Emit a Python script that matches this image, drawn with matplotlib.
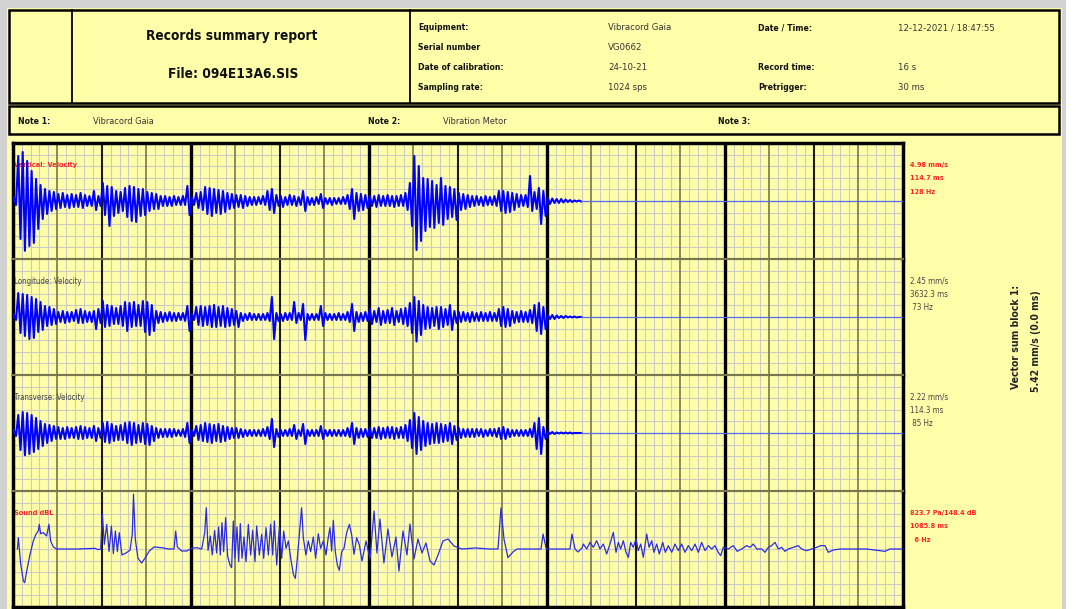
import numpy as np
import matplotlib
matplotlib.use('Agg')
import matplotlib.pyplot as plt
from matplotlib.patches import Rectangle

# ---- vibration envelopes, one value per 40 ms bin (mm/s) ----
DT = 0.04
vert_up = [0.4, 4.5, 4.9, 4.0, 3.0, 2.2, 1.6, 1.2, 1.0, 0.9,
           0.7, 0.8, 0.6, 0.7, 0.6, 0.8, 0.6, 0.5, 1.0, 0.5,
           1.8, 1.5, 1.4, 1.0, 0.9, 1.3, 1.5, 1.4, 1.2, 1.2,
           0.9, 0.8, 0.7, 0.5, 0.5, 0.4, 0.5, 0.4, 0.5, 1.5,
           0.4, 0.8, 0.9, 1.4, 1.3, 1.2, 1.1, 1.0, 0.8, 0.7,
           0.6, 0.6, 0.5, 0.4, 0.4, 0.4, 0.5, 1.0, 1.2, 0.6,
           0.5, 0.4, 0.6, 0.5, 0.4, 1.0, 0.4, 0.3, 0.4, 0.7,
           0.3, 0.3, 0.3, 0.3, 0.4, 0.6, 1.2, 0.8, 0.7, 0.6,
           0.5, 0.5, 0.6, 0.5, 0.6, 0.5, 0.5, 0.6, 0.8, 1.8,
           4.5, 3.5, 2.3, 2.2, 2.0, 1.6, 2.3, 1.5, 1.4, 1.2,
           0.8, 0.7, 0.6, 0.5, 0.5, 0.4, 0.5, 0.4, 0.5, 1.0,
           1.0, 0.9, 0.8, 0.7, 0.6, 0.6, 2.5, 0.9, 1.3, 1.0,
           0.3, 0.25, 0.2, 0.2, 0.15, 0.1, 0.05, 0.05]
vert_lo = [0.4, 3.8, 4.98, 4.5, 4.2, 2.8, 1.8, 1.3, 1.0, 0.8,
           0.7, 0.6, 0.7, 0.6, 0.6, 0.7, 0.5, 0.5, 0.9, 0.5,
           1.4, 2.5, 1.5, 1.2, 1.0, 1.6, 2.0, 2.1, 1.5, 1.4,
           1.0, 0.8, 0.8, 0.5, 0.5, 0.5, 0.4, 0.4, 0.4, 1.4,
           0.4, 0.7, 0.9, 1.3, 1.5, 1.2, 1.3, 1.1, 0.8, 0.7,
           0.6, 0.7, 0.5, 0.4, 0.4, 0.3, 0.4, 0.9, 1.2, 0.5,
           0.6, 0.4, 0.4, 0.5, 0.4, 1.0, 0.4, 0.4, 0.3, 0.7,
           0.3, 0.4, 0.3, 0.3, 0.3, 0.8, 1.8, 1.0, 0.9, 0.7,
           0.5, 0.6, 0.5, 0.5, 0.5, 0.6, 0.5, 0.5, 0.9, 2.5,
           4.9, 4.0, 3.0, 2.6, 2.7, 2.2, 2.4, 1.8, 1.6, 1.9,
           0.9, 0.8, 0.6, 0.5, 0.4, 0.5, 0.4, 0.4, 0.5, 1.0,
           1.2, 1.1, 0.9, 0.6, 0.5, 0.6, 1.0, 0.8, 2.3, 1.5,
           0.3, 0.2, 0.2, 0.15, 0.1, 0.1, 0.05, 0.05]

long_up = [0.3, 2.4, 2.3, 2.2, 2.0, 1.8, 1.5, 1.1, 1.0, 0.8,
           0.5, 0.6, 0.5, 0.5, 0.7, 0.8, 0.6, 0.5, 0.6, 0.8,
           1.6, 1.2, 1.1, 0.9, 1.1, 1.5, 1.4, 1.5, 1.2, 1.6,
           1.5, 1.2, 0.6, 0.5, 0.4, 0.5, 0.4, 0.4, 0.4, 1.1,
           0.3, 1.0, 1.1, 1.0, 1.1, 1.2, 1.0, 1.1, 0.9, 0.8,
           0.6, 0.4, 0.3, 0.4, 0.3, 0.3, 0.3, 0.4, 2.0, 0.4,
           0.3, 0.4, 0.4, 1.5, 0.4, 1.3, 0.3, 0.3, 0.3, 1.1,
           0.4, 0.3, 0.3, 0.4, 0.3, 0.5, 1.3, 0.5, 0.4, 0.5,
           0.8, 0.6, 0.9, 0.6, 0.7, 0.9, 0.6, 0.8, 0.9, 1.4,
           2.0, 1.6, 1.2, 1.0, 0.9, 1.0, 1.0, 0.8, 1.2, 0.6,
           0.5, 0.5, 0.4, 0.5, 0.4, 0.5, 0.4, 0.5, 0.4, 0.8,
           1.0, 0.8, 0.6, 0.5, 0.6, 0.5, 0.7, 1.2, 1.4, 1.0,
           0.2, 0.2, 0.15, 0.1, 0.1, 0.05, 0.05, 0.0]
long_lo = [0.3, 1.6, 1.9, 2.2, 2.1, 1.5, 1.3, 0.9, 0.8, 0.7,
           0.5, 0.6, 0.5, 0.4, 0.6, 0.6, 0.5, 0.5, 1.2, 0.6,
           1.0, 0.9, 0.7, 0.7, 0.9, 1.4, 1.0, 0.9, 0.9, 1.5,
           1.8, 1.4, 0.6, 0.5, 0.4, 0.4, 0.4, 0.3, 0.4, 1.4,
           0.3, 0.8, 0.9, 0.8, 1.0, 1.0, 0.9, 1.0, 0.9, 0.8,
           1.0, 0.4, 0.3, 0.3, 0.3, 0.3, 0.3, 0.4, 2.2, 0.4,
           0.4, 0.3, 0.3, 0.6, 0.3, 2.3, 0.3, 0.3, 0.3, 0.9,
           0.3, 0.3, 0.3, 0.3, 0.3, 0.5, 1.4, 0.5, 0.4, 0.4,
           0.7, 0.5, 0.8, 0.6, 0.6, 0.8, 0.5, 0.7, 0.9, 1.6,
           2.45, 1.8, 1.2, 1.1, 0.9, 1.2, 1.0, 0.8, 1.3, 0.6,
           0.5, 0.4, 0.5, 0.4, 0.4, 0.4, 0.4, 0.4, 0.4, 0.9,
           1.0, 0.9, 0.6, 0.5, 0.5, 0.5, 0.6, 1.4, 1.7, 1.2,
           0.2, 0.2, 0.1, 0.1, 0.05, 0.05, 0.05, 0.0]

trans_up = [0.3, 1.8, 2.1, 2.0, 1.8, 1.5, 1.2, 0.9, 0.8, 0.7,
            0.6, 0.5, 0.6, 0.5, 0.6, 0.7, 0.6, 0.5, 0.7, 0.5,
            1.0, 1.1, 0.9, 0.7, 0.8, 1.0, 1.1, 1.0, 0.8, 1.0,
            0.9, 0.7, 0.5, 0.4, 0.4, 0.4, 0.4, 0.3, 0.4, 1.0,
            0.3, 0.7, 0.8, 1.0, 0.9, 0.8, 0.9, 0.7, 0.6, 0.5,
            0.5, 0.4, 0.3, 0.3, 0.3, 0.3, 0.4, 0.6, 1.4, 0.4,
            0.3, 0.3, 0.4, 0.8, 0.3, 0.9, 0.3, 0.3, 0.3, 0.7,
            0.3, 0.3, 0.3, 0.3, 0.3, 0.5, 1.0, 0.5, 0.4, 0.4,
            0.5, 0.5, 0.6, 0.5, 0.6, 0.6, 0.5, 0.6, 0.8, 1.3,
            2.0, 1.6, 1.2, 1.0, 0.9, 1.0, 0.9, 0.8, 1.0, 0.7,
            0.5, 0.4, 0.4, 0.4, 0.4, 0.4, 0.3, 0.4, 0.4, 0.5,
            0.6, 0.4, 0.3, 0.3, 0.3, 0.3, 0.4, 1.0, 1.5, 0.6,
            0.15, 0.1, 0.05, 0.05, 0.05, 0.05, 0.0, 0.0]
trans_lo = [0.3, 1.7, 2.22, 2.1, 1.9, 1.6, 1.3, 1.0, 0.8, 0.6,
            0.6, 0.6, 0.5, 0.5, 0.6, 0.6, 0.5, 0.5, 0.8, 0.5,
            0.9, 1.0, 0.8, 0.7, 0.7, 1.0, 1.2, 1.0, 0.9, 1.1,
            1.2, 0.8, 0.5, 0.4, 0.4, 0.4, 0.3, 0.3, 0.4, 1.0,
            0.3, 0.7, 0.8, 0.9, 1.0, 0.8, 0.9, 0.8, 0.6, 0.5,
            0.5, 0.4, 0.3, 0.3, 0.3, 0.3, 0.3, 0.6, 1.4, 0.4,
            0.3, 0.3, 0.3, 0.6, 0.3, 1.1, 0.3, 0.3, 0.3, 0.6,
            0.3, 0.3, 0.3, 0.3, 0.3, 0.4, 1.1, 0.5, 0.4, 0.4,
            0.5, 0.5, 0.6, 0.5, 0.5, 0.6, 0.5, 0.5, 0.8, 1.5,
            2.1, 1.7, 1.3, 1.1, 1.0, 1.0, 0.9, 0.8, 1.1, 0.7,
            0.5, 0.4, 0.4, 0.4, 0.3, 0.4, 0.3, 0.3, 0.4, 0.6,
            0.6, 0.4, 0.3, 0.3, 0.3, 0.3, 0.4, 1.6, 2.1, 0.6,
            0.1, 0.1, 0.05, 0.05, 0.05, 0.05, 0.0, 0.0]

# ---- sound pressure trace (s, Pa) ----
sound_t = [0.042, 0.051, 0.072, 0.096, 0.108, 0.126, 0.156, 0.185, 0.209, 0.230,
           0.239, 0.251, 0.275, 0.305, 0.326, 0.341, 0.365, 0.395, 0.575, 0.740,
           0.770, 0.791, 0.806, 0.824, 0.845, 0.866, 0.887, 0.905, 0.923, 0.941,
           0.958, 0.982, 1.018, 1.054, 1.075, 1.0858, 1.102, 1.126, 1.159, 1.192,
           1.228, 1.270, 1.339, 1.399, 1.450, 1.465, 1.480, 1.519, 1.564, 1.609,
           1.654, 1.699, 1.726, 1.740, 1.756, 1.776, 1.794, 1.815, 1.833, 1.851,
           1.866, 1.881, 1.896, 1.914, 1.932, 1.953, 1.968, 1.983, 1.998, 2.016,
           2.031, 2.046, 2.061, 2.079, 2.097, 2.118, 2.139, 2.157, 2.178, 2.193,
           2.217, 2.238, 2.256, 2.277, 2.298, 2.319, 2.337, 2.352, 2.373, 2.397,
           2.418, 2.436, 2.457, 2.478, 2.499, 2.523, 2.541, 2.561, 2.582, 2.597,
           2.612, 2.636, 2.657, 2.678, 2.702, 2.723, 2.747, 2.768, 2.792, 2.816,
           2.837, 2.852, 2.867, 2.882, 2.900, 2.918, 2.936, 2.957, 2.978, 3.002,
           3.026, 3.047, 3.068, 3.092, 3.116, 3.140, 3.176, 3.212, 3.248, 3.274,
           3.301, 3.337, 3.373, 3.409, 3.445, 3.472, 3.508, 3.544, 3.571, 3.607,
           3.643, 3.679, 3.715, 3.751, 3.787, 3.823, 3.868, 3.913, 3.967, 4.039,
           4.156, 4.291, 4.362, 4.389, 4.416, 4.452, 4.497, 4.533, 4.749, 4.767,
           4.794, 4.803, 5.009, 5.027, 5.054, 5.081, 5.117, 5.129, 5.160, 5.189,
           5.219, 5.249, 5.279, 5.309, 5.339, 5.369, 5.399, 5.423, 5.444, 5.465,
           5.489, 5.513, 5.534, 5.555, 5.578, 5.603, 5.623, 5.645, 5.668, 5.699,
           5.720, 5.744, 5.764, 5.789, 5.812, 5.843, 5.866, 5.893, 5.924, 5.953,
           5.983, 6.013, 6.043, 6.073, 6.103, 6.133, 6.163, 6.193, 6.223, 6.253,
           6.283, 6.313, 6.342, 6.364, 6.387, 6.432, 6.477, 6.513, 6.553, 6.598,
           6.627, 6.657, 6.688, 6.733, 6.762, 6.792, 6.822, 6.852, 6.882, 6.912,
           6.942, 6.972, 7.017, 7.062, 7.092, 7.137, 7.182, 7.227, 7.263, 7.302,
           7.331, 7.376, 7.436, 7.556, 7.676, 7.796, 7.841, 7.886, 8.0]
sound_pa = [0, 170, -230, -480, -505, -330, -80, 120, 220, 270,
            370, 230, 245, 195, 370, 120, 30, 0, 0, 10,
            -10, 0, 520, 70, 370, -40, 345, -70, 270, -40,
            245, -90, -60, -20, 220, 823.7, 145, -140, -210, -130,
            -30, 30, 20, 0, 0, 270, 30, -30, -30, 10,
            20, 0, 245, 620, -20, 195, -90, 280, -60, 330,
            -90, 395, -40, 470, -105, -240, -280, 420, -140, 330,
            -190, 380, -140, 180, -190, 370, -90, 280, -190, 345,
            -90, 220, -140, 320, -90, 370, -90, 420, -240, 330,
            -140, 270, 10, 120, -140, -380, -440, -90, 320, 620,
            170, -90, 120, -40, 180, -140, 230, 10, 120, -90,
            180, 320, -30, 430, -40, -240, -320, -40, 10, 245,
            370, 210, -80, 170, 60, -180, 120, -150, 570, -60,
            450, -210, 300, -120, 180, -330, 270, -90, 375, -150,
            150, -60, 90, -180, -240, -90, 120, 150, 45, 0,
            15, 0, 0, 615, 150, -130, -45, 0, 0, 225,
            15, 0, 0, 225, 0, -45, 15, 75, 0, 100,
            25, 125, 0, 75, -75, 75, 250, -50, 100, 0,
            125, -50, -125, 100, 25, 150, -25, 75, -125, 225,
            25, 125, -50, 75, -75, 100, -50, 50, -50, 75,
            -25, 75, -50, 50, -25, 75, -50, 100, -25, 50,
            0, 50, -50, -100, 25, 0, 50, -35, 0, 50,
            25, 75, 0, 0, -50, 25, 50, 100, 0, 25,
            -35, 0, 25, 50, 0, -25, 0, 25, 50, 50,
            -50, -15, 0, 0, 0, -25, -35, 0, 0]

channel_names = ['Vertical: Velocity', 'Longitude: Velocity', 'Transverse: Velocity', 'Sound dBL']
channel_peaks = [['4.98 mm/s', '114.7 ms', '128 Hz'],
                 ['2.45 mm/s', '3632.3 ms', ' 73 Hz'],
                 ['2.22 mm/s', '114.3 ms', ' 85 Hz'],
                 ['823.7 Pa/148.4 dB', '1085.8 ms', '  6 Hz']]
channel_alarm = [True, False, False, True]

header_left = [('Equipment:', 'Vibracord Gaia'), ('Serial number', 'VG0662'),
               ('Date of calibration:', '24-10-21'), ('Sampling rate:', '1024 sps')]
header_right = [('Date / Time:', '12-12-2021 / 18:47:55'), ('', ''),
                ('Record time:', '16 s'), ('Pretrigger:', '30 ms')]
notes = [('Note 1:', 'Vibracord Gaia'), ('Note 2:', 'Vibration Metor'), ('Note 3:', '')]

T_END = 8.0
W, H = 1076, 609
FONT = ['DejaVu Sans Condensed', 'DejaVu Sans']
YELLOW = '#ffffaa'
OLIVE = '#77774f'
MINOR = '#cbcbc6'
TRACE = '#0000ff'
RED = '#ff2424'
GREY = '#444444'

plt.rcParams['font.family'] = FONT
plt.rcParams['font.stretch'] = 'condensed'

fig = plt.figure(figsize=(W / 100, H / 100), dpi=100, facecolor='white')

# page layer in pixel coordinates
page = fig.add_axes([0, 0, 1, 1], zorder=0)
page.set_xlim(0, W)
page.set_ylim(H, 0)
page.axis('off')
page.add_patch(Rectangle((0, 0), 1066, H, color='#d2d2d2', lw=0))
page.add_patch(Rectangle((7, 8), 1055, H, color=YELLOW, lw=0))

# header box
page.add_patch(Rectangle((9, 10), 1050, 93, fill=False, ec='black', lw=1.8))
page.plot([72, 72], [10, 103], color='black', lw=1.3)
page.plot([410, 410], [10, 103], color='black', lw=1.3)
page.text(232, 36, 'Records summary report', ha='center', va='center',
          fontsize=9.8, fontweight='bold', color='#111111')
page.text(233, 74, 'File: 094E13A6.SIS', ha='center', va='center',
          fontsize=9.8, fontweight='bold', color='#111111')
for k, ((l1, v1), (l2, v2)) in enumerate(zip(header_left, header_right)):
    y = 28 + k * 19.7
    page.text(418, y, l1, va='center', fontsize=6.2, fontweight='bold', color='#111111')
    page.text(608, y, v1, va='center', fontsize=6.8, color='#333333')
    page.text(758, y, l2, va='center', fontsize=6.2, fontweight='bold', color='#111111')
    page.text(898, y, v2, va='center', fontsize=6.8, color='#333333')

# notes row
page.add_patch(Rectangle((9, 106), 1050, 28, fill=False, ec='black', lw=1.8))
for k, (lab, val) in enumerate(notes):
    x0 = 18 + k * 350
    page.text(x0, 121, lab, va='center', fontsize=6.2, fontweight='bold', color='#111111')
    page.text(x0 + 75, 121, val, va='center', fontsize=6.6, color='#333333')

# vector sum, rotated on the right margin
page.text(1016, 337, 'Vector sum block 1:', rotation=90, ha='center', va='center',
          fontsize=7.5, fontweight='bold', color='#222222')
page.text(1036, 341, '5.42 mm/s (0.0 ms)', rotation=90, ha='center', va='center',
          fontsize=7.5, fontweight='bold', color='#222222')

# channel rows
CH_L, CH_R, CH_TOP, ROW_H = 12.7, 902.7, 143, 116
row_lim = [5.8, 5.8, 5.8, 870]


def zigzag(up, lo):
    i = np.arange(len(up))
    t = np.column_stack([(i + 0.25) * DT, (i + 0.75) * DT]).ravel()
    v = np.column_stack([up, -np.asarray(lo)]).ravel()
    return np.r_[0.0, t], np.r_[0.0, v]


traces = [(vert_up, vert_lo), (long_up, long_lo), (trans_up, trans_lo)]

for r in range(4):
    top = CH_TOP + r * ROW_H
    ax = fig.add_axes([CH_L / W, 1 - (top + ROW_H) / H, (CH_R - CH_L) / W, ROW_H / H], zorder=1)
    ax.set_facecolor('none')
    lim = row_lim[r]
    ax.set_xlim(0, T_END)
    ax.set_ylim(-lim, lim)
    ax.set_xticks([])
    ax.set_yticks([])

    # horizontal minor grid
    for j in range(1, 10):
        ax.axhline(-lim + j * lim / 5, color=MINOR, lw=0.8, zorder=0)
    # vertical grid: 80 ms minor, 0.4 s olive, 0.8 s black, 1.6 s heavy
    for k in range(1, 100):
        t = k * 0.08
        if k % 20 == 0:
            ax.axvline(t, color='black', lw=2.4, zorder=1)
        elif k % 10 == 0:
            ax.axvline(t, color='#1a1a1a', lw=1.5, zorder=1)
        elif k % 5 == 0:
            ax.axvline(t, color=OLIVE, lw=1.2, zorder=1)
        else:
            ax.axvline(t, color=MINOR, lw=0.8, zorder=0)

    for side in ['left', 'right']:
        ax.spines[side].set_color('black')
        ax.spines[side].set_linewidth(2.5)
    ax.spines['top'].set_color('black' if r == 0 else OLIVE)
    ax.spines['top'].set_linewidth(2.5 if r == 0 else 1.5)
    ax.spines['bottom'].set_color('black' if r == 3 else OLIVE)
    ax.spines['bottom'].set_linewidth(2.5 if r == 3 else 1.5)

    alarm = channel_alarm[r]
    ax.text(0.015, lim * 0.62, channel_names[r], fontsize=5.3 if alarm else 5.7,
            fontweight='bold' if alarm else 'normal',
            color=RED if alarm else GREY, va='center', zorder=2)

    if r < 3:
        up, lo = traces[r]
        t, v = zigzag(up, lo)
        ax.plot(t, v, color=TRACE, lw=1.5, zorder=3)
        ax.plot([t[-1], T_END], [0, 0], color='#5b6bf0', lw=0.9, zorder=3)
    else:
        ax.plot(sound_t, sound_pa, color='#2b2be6', lw=0.9, zorder=3)

    # peak readout to the right of the row
    for j, s in enumerate(channel_peaks[r]):
        page.text(910, top + 22 + j * 13.5, s, va='center',
                  fontsize=5.2 if alarm else 5.8,
                  fontweight='bold' if alarm else 'normal',
                  color=RED if alarm else GREY)

fig.savefig('out.png', dpi=100, facecolor=fig.get_facecolor())
